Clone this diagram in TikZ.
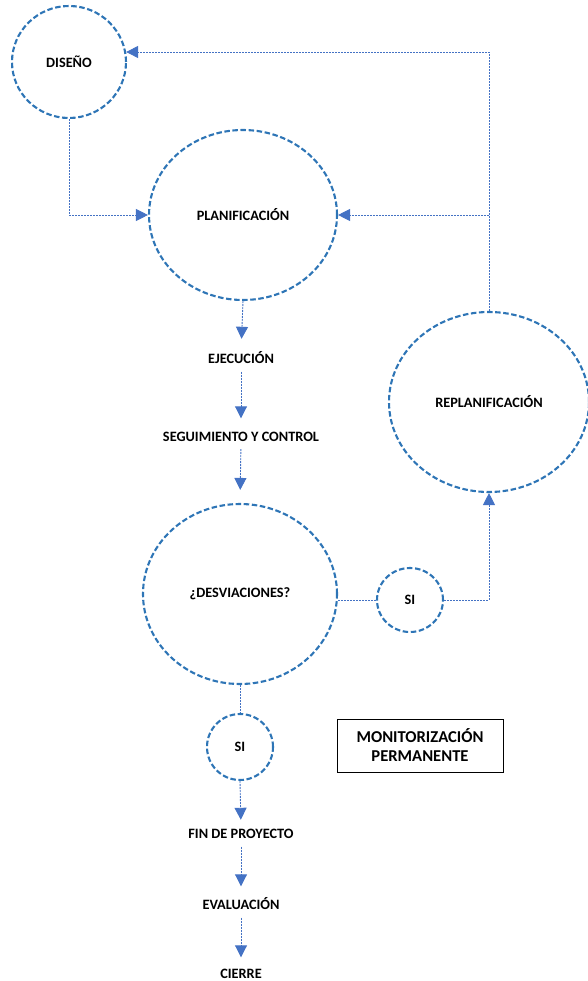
\documentclass[tikz,border=0pt]{standalone}
\usepackage{fontspec}
\setmainfont{Carlito}
\usetikzlibrary{arrows.meta,shapes.geometric}
\definecolor{ringblue}{RGB}{46,117,182}
\definecolor{linkblue}{RGB}{68,114,196}
\begin{document}
\begin{tikzpicture}[x=1pt,y=-1pt,
  ring/.style={ellipse, draw=ringblue, line width=2.1pt,
    dash pattern=on 5.5pt off 2.6pt, inner sep=0pt,
    font=\bfseries\fontsize{14.3}{17}\selectfont},
  lbl/.style={inner sep=0pt, text height=10pt, text depth=0pt,
    font=\bfseries\fontsize{14.3}{17}\selectfont},
  link/.style={draw=linkblue, line width=0.9pt, dash pattern=on 2pt off 1pt},
  tip/.style={-{Triangle[width=12pt,length=12pt]}},
  gap/.style={shorten <=8.5pt, shorten >=12.5pt},
  notebox/.style={draw=black, line width=0.9pt, align=center, inner sep=0pt,
    minimum width=166pt, minimum height=53pt,
    font=\bfseries\fontsize{16.6}{19}\selectfont}]
\useasboundingbox (0,0) rectangle (587,981);

% circles and ellipses
\node[ring, minimum width=114pt, minimum height=112pt] (d) at (69,62) {DISEÑO};
\node[ring, minimum width=188pt, minimum height=170pt] (plan) at (243,215) {PLANIFICACIÓN};
\node[ring, minimum width=200pt, minimum height=180pt] (replan) at (489,402) {REPLANIFICACIÓN};
\node[ring, minimum width=194pt, minimum height=180pt] (desv) at (240,594) {¿DESVIACIONES?};
\node[ring, minimum width=66pt, minimum height=64pt] (siR) at (410,600) {SI};
\node[ring, minimum width=66pt, minimum height=66pt] (siB) at (240,747) {SI};

% plain step labels
\node[lbl] (ejec) at (241,358) {EJECUCIÓN};
\node[lbl] (seg) at (241,436) {SEGUIMIENTO Y CONTROL};
\node[lbl] (fin) at (241,833) {FIN DE PROYECTO};
\node[lbl] (eval) at (241,904) {EVALUACIÓN};
\node[lbl] (cierre) at (241,973) {CIERRE};

\node[notebox] (mon) at (420,745.5) {MONITORIZACIÓN\\PERMANENTE};

% feedback loop from the replanning step
\coordinate (tr) at (489,52);
\draw[link,tip] (replan.north) -- (tr) -- (tr -| d.10);
\draw[link,tip] (tr |- plan.east) -- (plan.east);
\draw[link,tip] (d.south) |- (plan.west);

% main sequence
\draw[link,tip,shorten >=14pt] (plan.south) -- (ejec.north);
\draw[link,tip,gap] (ejec.south) -- (seg.north);
\draw[link,tip,shorten <=8pt,shorten >=13pt] (seg.south) -- (desv.north);

% decision branches
\draw[link] (siR.west -| desv.east) -- (siR.west);
\draw[link,tip] (siR.east) -| (replan.south);
\draw[link] (desv.south) -- (siB.north);
\draw[link,tip,shorten >=8pt] (siB.south) -- (fin.north);
\draw[link,tip,gap] (fin.south) -- (eval.north);
\draw[link,tip,shorten <=8.5pt,shorten >=10.5pt] (eval.south) -- (cierre.north);
\end{tikzpicture}
\end{document}
